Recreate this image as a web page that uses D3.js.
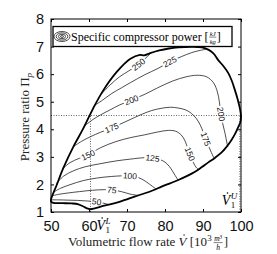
<!DOCTYPE html>
<html>
<head>
<meta charset="utf-8">
<script src="https://cdn.jsdelivr.net/npm/d3@7"></script>
<style>
  body { margin: 0; background: #fff; }
  svg { display: block; }
</style>
</head>
<body>
<div id="chart"></div>
<script>
// operating envelope of the compressor, [flow 10^3 m3/h, pressure ratio]
const envelope = [
  [50.0, 1.45], [51.5, 1.98], [53.2, 2.58], [55.9, 3.37], [58.5, 4.03], [61.1, 4.76],
  [63.8, 5.42], [67.3, 6.08], [70.8, 6.55], [73.4, 6.70], [74.5, 6.68], [76.1, 6.76],
  [78.5, 6.86], [81.0, 6.93], [83.5, 6.97], [87.0, 6.99], [89.7, 6.97], [91.5, 6.88],
  [92.8, 6.74], [94.0, 6.51], [95.5, 6.27], [96.7, 6.03], [97.6, 5.75], [98.4, 5.42],
  [99.1, 5.10], [99.6, 4.82], [99.9, 4.60], [100, 4.45], [99.8, 4.25], [99.3, 4.09],
  [98.5, 3.85], [97.5, 3.61], [96.3, 3.38], [94.9, 3.16], [93.2, 2.97], [91.4, 2.80],
  [89.7, 2.63], [87.9, 2.46], [85.7, 2.30], [83.5, 2.16], [81.3, 2.04], [79.1, 1.92],
  [76.9, 1.79], [74.7, 1.68], [72.0, 1.56], [69.5, 1.44], [67.3, 1.34], [64.0, 1.23],
  [61.5, 1.13], [60.4, 1.10], [59.3, 1.14], [58.4, 1.21], [57.2, 1.28], [55.5, 1.31],
  [53.0, 1.32], [50.6, 1.33], [50.0, 1.38]
];

// specific compressor power contours [kJ/kg]
const levels = [50, 75, 100, 125, 150, 175, 200, 225, 250];
const c50 = [[50.1, 1.44], [52, 1.44], [54.5, 1.43], [57, 1.42], [59.5, 1.40], [62, 1.37], [63.8, 1.32], [65.2, 1.27]];
const c75 = [[50.4, 1.59], [52, 1.64], [54.5, 1.69], [57.5, 1.74], [61, 1.79], [64, 1.81], [66, 1.80], [68.5, 1.74], [70.8, 1.65], [73, 1.60]];
const c100 = [[50.8, 1.73], [52.5, 1.86], [55, 1.99], [58.5, 2.14], [62, 2.23], [66, 2.29], [70.8, 2.31], [73, 2.25], [74.8, 2.12], [76.3, 1.97], [77.6, 1.84]];
const c125 = [[51.4, 2.03], [53.3, 2.30], [56, 2.50], [59, 2.64], [62.9, 2.75], [67, 2.85], [71, 2.92], [74.7, 2.97], [76.9, 2.95], [78.7, 2.90], [80, 2.81], [81.1, 2.66], [81.9, 2.50], [82.7, 2.32], [83.4, 2.16]];
const c150 = [[53.2, 2.58], [55, 2.79], [57.5, 2.95], [59.8, 3.07], [63, 3.33], [67, 3.55], [71, 3.70], [74.7, 3.80], [78, 3.90], [80.9, 3.96], [82.8, 3.93], [84.3, 3.79], [85.3, 3.57], [86, 3.30], [86.7, 3.05], [87.5, 2.78], [88.2, 2.62], [88.8, 2.54]];
const c175 = [[55.9, 3.37], [58, 3.56], [60.5, 3.74], [63, 3.89], [66, 4.05], [70, 4.30], [74, 4.55], [76.5, 4.68], [79, 4.76], [81.5, 4.80], [83.5, 4.77], [85.5, 4.70], [87, 4.57], [88.3, 4.38], [89.3, 4.15], [90.1, 3.88], [90.8, 3.62], [91.5, 3.38], [92.2, 3.16], [92.9, 2.95]];
const c200 = [[58.9, 4.13], [61, 4.35], [63, 4.52], [65.5, 4.70], [68, 4.88], [71.2, 5.06], [74.7, 5.27], [78, 5.50], [82, 5.75], [85.5, 5.90], [88.5, 5.96], [91, 5.90], [92.8, 5.68], [93.8, 5.35], [94.3, 5.00], [94.7, 4.60], [95.2, 4.20], [95.8, 3.85], [96.3, 3.50], [96.5, 3.38]];
const c225 = [[61.5, 4.87], [63.5, 5.05], [66, 5.30], [68.5, 5.50], [71, 5.70], [74.7, 5.98], [78.2, 6.21], [81.3, 6.45], [84.4, 6.64], [87, 6.78], [89.2, 6.86], [90.8, 6.90]];
const c250 = [[63.2, 5.27], [65.5, 5.60], [68, 5.90], [70.5, 6.12], [72, 6.25], [73, 6.35], [74.3, 6.50], [75.5, 6.66], [76.5, 6.79]];

// inline contour labels: [level, flow, pressure ratio]
const labelSpots = [
  [250, 73.0, 6.35], [225, 81.3, 6.45], [200, 71.2, 5.06], [200, 94.7, 4.55],
  [175, 66.0, 4.05], [175, 90.8, 3.65], [150, 59.8, 3.07], [150, 86.4, 3.10],
  [125, 76.7, 2.95], [100, 70.8, 2.31], [75, 66.0, 1.80], [50, 62.0, 1.37]
];

const xTicks = [50, 60, 70, 80, 90, 100];
const yTicks = [1, 2, 3, 4, 5, 6, 7, 8];
const vLow = 60.4;
const vUp = 99.7;
const piRef = 4.5;

const width = 277, height = 254;
const serif = '"Liberation Serif", "DejaVu Serif", serif';
const sans = '"Liberation Sans", Arial, sans-serif';

const x = d3.scaleLinear().domain([50, 100]).range([51, 241]);
const y = d3.scaleLinear().domain([1, 8]).range([212, 19]);

const svg = d3.select('#chart').append('svg')
  .attr('width', width)
  .attr('height', height);

const mask = svg.append('defs').append('mask')
  .attr('id', 'gaps')
  .attr('maskUnits', 'userSpaceOnUse')
  .attr('x', 0).attr('y', 0)
  .attr('width', width).attr('height', height);
mask.append('rect').attr('width', width).attr('height', height).attr('fill', '#fff');

const line = d3.line()
  .x(d => x(d[0]))
  .y(d => y(d[1]))
  .curve(d3.curveCatmullRom.alpha(0.5));

// contours
const contourSets = [c50, c75, c100, c125, c150, c175, c200, c225, c250];
const contourG = svg.append('g').attr('mask', 'url(#gaps)');
const paths = {};
levels.forEach((lv, i) => {
  paths[lv] = contourG.append('path')
    .attr('d', line(contourSets[i]))
    .attr('fill', 'none')
    .attr('stroke', '#000')
    .attr('stroke-width', 0.7);
});

// labels sit on the line, turned along it, line cut out underneath
const labelG = svg.append('g');
labelSpots.forEach(([lv, vx, vy]) => {
  const node = paths[lv].node();
  const total = node.getTotalLength();
  const tx = x(vx), ty = y(vy);
  let best = 0, bestD = Infinity;
  for (let l = 0; l <= total; l += 0.25) {
    const p = node.getPointAtLength(l);
    const d = (p.x - tx) ** 2 + (p.y - ty) ** 2;
    if (d < bestD) { bestD = d; best = l; }
  }
  const p = node.getPointAtLength(best);
  const a = node.getPointAtLength(Math.max(0, best - 4));
  const b = node.getPointAtLength(Math.min(total, best + 4));
  let ang = Math.atan2(b.y - a.y, b.x - a.x) * 180 / Math.PI;
  if (ang > 90) ang -= 180;
  if (ang < -90) ang += 180;
  const tr = `translate(${p.x},${p.y}) rotate(${ang})`;
  const t = labelG.append('text')
    .attr('transform', tr)
    .attr('text-anchor', 'middle')
    .attr('dy', '0.35em')
    .attr('font-family', sans)
    .attr('font-size', 8.5)
    .attr('fill', '#111')
    .text(lv);
  const bb = t.node().getBBox();
  mask.append('rect')
    .attr('transform', tr)
    .attr('x', bb.x - 1.2)
    .attr('y', bb.y + 1)
    .attr('width', bb.width + 2.4)
    .attr('height', bb.height - 2)
    .attr('fill', '#000');
});

// reference lines
const dotted = svg.append('g')
  .attr('stroke', '#222')
  .attr('stroke-width', 0.7)
  .attr('stroke-dasharray', '1,1.5');
dotted.append('line').attr('x1', x(50)).attr('x2', x(100)).attr('y1', y(piRef)).attr('y2', y(piRef));
dotted.append('line').attr('x1', x(vLow)).attr('x2', x(vLow)).attr('y1', y(1)).attr('y2', y(piRef));
dotted.append('line').attr('x1', x(vUp)).attr('x2', x(vUp)).attr('y1', y(1)).attr('y2', y(piRef));

// envelope
svg.append('path')
  .attr('d', line.curve(d3.curveCatmullRomClosed.alpha(0.5))(envelope))
  .attr('fill', 'none')
  .attr('stroke', '#000')
  .attr('stroke-width', 1.8)
  .attr('stroke-linejoin', 'round');

// axes, ticks inward on all four sides
const fmt = d3.format('d');
svg.append('g')
  .attr('transform', `translate(0,${y(1)})`)
  .call(d3.axisBottom(x).tickValues(xTicks).tickFormat(fmt).tickSizeInner(-3).tickSizeOuter(0).tickPadding(9))
  .call(g => g.select('.domain').remove());
svg.append('g')
  .attr('transform', `translate(0,${y(8)})`)
  .call(d3.axisTop(x).tickValues(xTicks).tickSizeInner(-3).tickSizeOuter(0).tickFormat(''))
  .call(g => g.select('.domain').remove());
svg.append('g')
  .attr('transform', `translate(${x(50)},0)`)
  .call(d3.axisLeft(y).tickValues(yTicks).tickFormat(fmt).tickSizeInner(-3).tickSizeOuter(0).tickPadding(7))
  .call(g => g.select('.domain').remove());
svg.append('g')
  .attr('transform', `translate(${x(100)},0)`)
  .call(d3.axisRight(y).tickValues(yTicks).tickSizeInner(-3).tickSizeOuter(0).tickFormat(''))
  .call(g => g.select('.domain').remove());
svg.selectAll('.tick text')
  .attr('font-family', sans)
  .attr('font-size', 14.5)
  .attr('fill', '#111');
svg.selectAll('.tick line').attr('stroke', '#000');

svg.append('rect')
  .attr('x', x(50)).attr('y', y(8))
  .attr('width', x(100) - x(50))
  .attr('height', y(1) - y(8))
  .attr('fill', 'none')
  .attr('stroke', '#000')
  .attr('stroke-width', 1);

// V-dot symbols
function flowSymbol(px, base, sup) {
  const t = svg.append('text')
    .attr('x', px).attr('y', base)
    .attr('font-family', serif).attr('font-size', 14).attr('font-style', 'italic')
    .text('V');
  const w = t.node().getComputedTextLength();
  svg.append('circle').attr('cx', px + w * 0.66).attr('cy', base - 12).attr('r', 0.8).attr('fill', '#000');
  svg.append('text').attr('x', px + w + 0.3).attr('y', base + 2.5)
    .attr('font-family', serif).attr('font-size', 9).text('1');
  svg.append('text').attr('x', px + w + 0.3).attr('y', base - 6)
    .attr('font-family', serif).attr('font-size', 9).attr('font-style', 'italic').text(sup);
}
flowSymbol(x(vLow) + 6, 230, 'L');
flowSymbol(x(vUp) - 18, 205, 'U');

// small stacked fraction, returns right edge
function fraction(g, px, base, num, den, size) {
  const n = g.append('text').attr('y', base - 5)
    .attr('font-family', serif).attr('font-size', size).attr('font-style', 'italic');
  num.forEach(([s, sup]) => {
    n.append('tspan').attr('font-size', sup ? size * 0.7 : size)
      .attr('dy', sup ? -2.5 : 0).text(s);
  });
  const d = g.append('text').attr('y', base + size * 0.55)
    .attr('font-family', serif).attr('font-size', size).attr('font-style', 'italic').text(den);
  const w = Math.max(n.node().getComputedTextLength(), d.node().getComputedTextLength()) + 1;
  n.attr('x', px + w / 2).attr('text-anchor', 'middle');
  d.attr('x', px + w / 2).attr('text-anchor', 'middle');
  g.append('line').attr('x1', px).attr('x2', px + w)
    .attr('y1', base - 3.4).attr('y2', base - 3.4)
    .attr('stroke', '#000').attr('stroke-width', 0.5);
  return px + w;
}

// legend
svg.append('rect')
  .attr('x', 53).attr('y', 26.5)
  .attr('width', 179).attr('height', 20)
  .attr('fill', '#fff')
  .attr('stroke', '#000')
  .attr('stroke-width', 1.3);
const rings = [[8, 5], [5.8, 3.6], [3.6, 2.2], [1.5, 0.9]];
svg.append('g').selectAll('ellipse').data(rings).enter()
  .append('ellipse')
  .attr('cx', 62).attr('cy', 36.5)
  .attr('rx', d => d[0]).attr('ry', d => d[1])
  .attr('fill', 'none').attr('stroke', '#000').attr('stroke-width', 0.7);
const lg = svg.append('g');
const lt = lg.append('text').attr('x', 71).attr('y', 40.5)
  .attr('font-family', serif).attr('font-size', 12)
  .text('Specific compressor power [');
let cx = 71 + lt.node().getComputedTextLength();
cx = fraction(lg, cx + 0.5, 40.5, [['kJ', false]], 'kg', 6.5);
lg.append('text').attr('x', cx + 0.5).attr('y', 40.5)
  .attr('font-family', serif).attr('font-size', 12).text(']');

// x title
const xBase = 246;
const xg = svg.append('g');
const xt = xg.append('text').attr('x', 0).attr('y', xBase)
  .attr('font-family', serif).attr('font-size', 13).attr('fill', '#222');
xt.append('tspan').text('Volumetric flow rate ');
xt.append('tspan').attr('font-style', 'italic').text('V');
xt.append('tspan').text(' [10');
xt.append('tspan').attr('font-size', 9).attr('dy', -5).text('3');
const vs = xt.node().getStartPositionOfChar(21).x;
const ve = xt.node().getEndPositionOfChar(21).x;
xg.append('circle').attr('cx', (vs + ve) / 2 + 1.5).attr('cy', xBase - 11).attr('r', 0.75).attr('fill', '#222');
cx = xt.node().getComputedTextLength() + 2;
cx = fraction(xg, cx, xBase, [['m', false], ['3', true]], 'h', 7.5);
xg.append('text').attr('x', cx + 1).attr('y', xBase)
  .attr('font-family', serif).attr('font-size', 13).attr('fill', '#222').text(']');
const xw = xg.node().getBBox().width;
xg.attr('transform', `translate(${148 - xw / 2},0)`);

// y title
const yt = svg.append('text')
  .attr('transform', 'translate(29,117) rotate(-90)')
  .attr('text-anchor', 'middle')
  .attr('font-family', serif).attr('font-size', 13).attr('fill', '#222');
yt.append('tspan').text('Pressure ratio Π');
yt.append('tspan').attr('font-size', 9).attr('font-style', 'italic').attr('dy', 3).text('p');
</script>
</body>
</html>
